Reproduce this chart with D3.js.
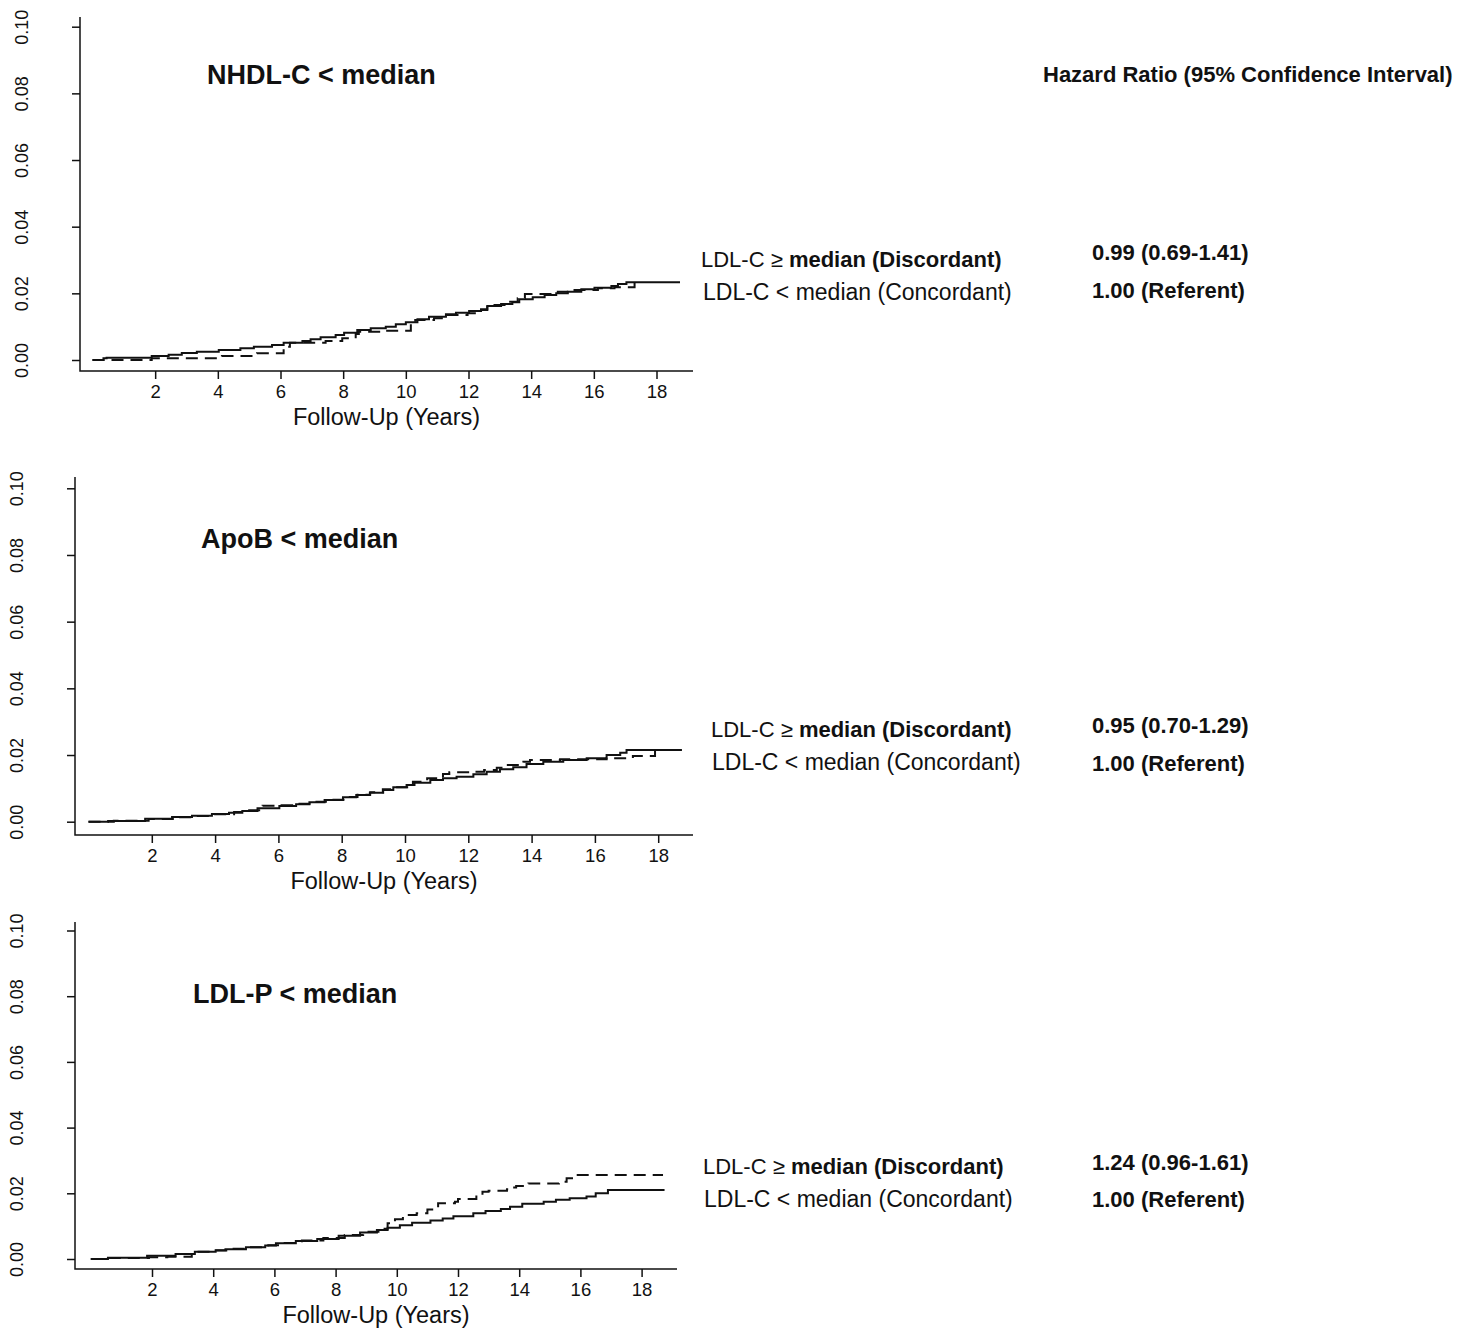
<!DOCTYPE html>
<html>
<head>
<meta charset="utf-8">
<script src="https://cdn.jsdelivr.net/npm/d3@7"></script>
<style>
  body { margin: 0; background: #fff; }
  text { font-family: "Liberation Sans", Arial, sans-serif; fill: #111; }
</style>
</head>
<body>
<svg id="chart" width="1458" height="1328"></svg>
<script>
// tick values
var yearTicks = [2, 4, 6, 8, 10, 12, 14, 16, 18];
var riskTicks = [0, 0.02, 0.04, 0.06, 0.08, 0.10];

// text
var panelTitles = ["NHDL-C < median", "ApoB < median", "LDL-P < median"];
var hazardRatios = ["0.99 (0.69-1.41)", "0.95 (0.70-1.29)", "1.24 (0.96-1.61)"];
var referentLabel = "1.00 (Referent)";
var hrHeader = "Hazard Ratio (95% Confidence Interval)";
var xTitle = "Follow-Up (Years)";

// cumulative incidence steps, [year, risk]
var nhdlConcordant = [[0,0],[0.35,0.0005],[0.45,0.0007],[1.89,0.0012],[2.43,0.0016],[2.85,0.0021],[3.33,0.0025],[4.03,0.003],[4.72,0.0035],[5.15,0.004],[5.73,0.0045],[6.1,0.0052],[6.7,0.0057],[6.96,0.0062],[7.28,0.0068],[7.76,0.0075],[8.03,0.0082],[8.45,0.009],[8.88,0.0095],[9.36,0.01],[9.68,0.0107],[10.0,0.0113],[10.37,0.0122],[10.74,0.013],[11.28,0.0137],[11.6,0.0142],[12.02,0.0147],[12.4,0.0152],[12.6,0.0162],[13.04,0.0168],[13.4,0.0173],[13.62,0.0182],[14.05,0.0188],[14.43,0.0195],[14.8,0.02],[15.17,0.0205],[15.6,0.0212],[16.02,0.0217],[16.56,0.0222],[16.77,0.0228],[17.04,0.0233],[18.75,0.0233]];
var nhdlDiscordant = [[0,0],[1.89,0.0005],[4.13,0.0012],[5.25,0.002],[6.1,0.004],[6.3,0.0052],[7.44,0.0057],[7.97,0.0065],[8.4,0.0078],[8.5,0.0085],[9.2,0.0088],[10.16,0.011],[10.3,0.012],[10.9,0.0125],[11.33,0.0135],[11.97,0.014],[12.4,0.015],[12.6,0.0165],[13.15,0.0175],[13.57,0.0185],[13.8,0.0198],[14.85,0.0205],[15.3,0.021],[16.13,0.0215],[16.66,0.0218],[17.3,0.0222],[17.3,0.0233]];

var apobConcordant = [[0,0],[0.62,0.0002],[1.79,0.0009],[2.64,0.0014],[3.27,0.0018],[3.9,0.0023],[4.44,0.0027],[4.86,0.0032],[5.34,0.004],[6.03,0.0047],[6.56,0.0052],[6.98,0.0058],[7.46,0.0065],[8.04,0.0073],[8.46,0.008],[8.89,0.0087],[9.31,0.0095],[9.63,0.0103],[10.05,0.011],[10.3,0.0117],[10.8,0.0125],[11.2,0.013],[11.63,0.0135],[12.16,0.0142],[12.58,0.015],[13.0,0.0157],[13.42,0.0163],[13.84,0.0173],[14.37,0.018],[15.0,0.0185],[15.74,0.019],[16.37,0.02],[16.8,0.0207],[17.0,0.0215],[18.75,0.0215]];
var apobDiscordant = [[0,0],[0.8,0.0003],[1.9,0.0008],[2.7,0.0013],[3.4,0.0017],[4.0,0.0022],[4.6,0.0029],[5.0,0.0034],[5.5,0.0048],[6.1,0.0049],[6.6,0.0054],[7.1,0.006],[7.5,0.0066],[8.1,0.0074],[8.5,0.0081],[8.9,0.0088],[9.3,0.0097],[9.63,0.0103],[10.25,0.012],[10.7,0.013],[11.2,0.0143],[11.4,0.0148],[12.16,0.015],[12.5,0.0155],[12.9,0.0162],[13.1,0.017],[13.74,0.018],[13.95,0.0185],[14.9,0.0187],[16.37,0.019],[17.2,0.0197],[17.9,0.0197],[17.9,0.0213]];

var ldlpConcordant = [[0,0],[0.56,0.0004],[1.84,0.001],[2.77,0.0015],[3.4,0.0022],[4.08,0.0027],[4.4,0.003],[5.07,0.0036],[5.7,0.0041],[6.05,0.0048],[6.7,0.0055],[7.4,0.0061],[8.1,0.0071],[8.8,0.0081],[9.35,0.0088],[9.7,0.0095],[10.1,0.0103],[10.5,0.011],[11.1,0.0117],[11.5,0.0123],[11.85,0.013],[12.5,0.0139],[12.9,0.0146],[13.4,0.0152],[13.7,0.0159],[14.1,0.0168],[14.8,0.0174],[15.2,0.018],[15.65,0.0185],[16.2,0.019],[16.5,0.02],[16.9,0.021],[18.75,0.021]];
var ldlpDiscordant = [[0,0],[0.6,0.0003],[1.9,0.0005],[2.5,0.0007],[3.3,0.0022],[4.1,0.0026],[4.6,0.0031],[5.2,0.0036],[5.8,0.0042],[6.2,0.0049],[6.9,0.0056],[7.6,0.0064],[8.3,0.0073],[8.9,0.0083],[9.4,0.0092],[9.7,0.0109],[9.94,0.0121],[10.2,0.0134],[10.65,0.0139],[11.0,0.0151],[11.35,0.017],[11.9,0.0174],[12.0,0.0183],[12.6,0.0195],[12.8,0.0205],[13.0,0.0208],[13.6,0.0212],[13.7,0.0218],[13.9,0.0222],[14.3,0.023],[15.3,0.0235],[15.55,0.0246],[15.8,0.0256],[18.7,0.0256]];

// panel boxes (layout only)
var panels = [
    { title: panelTitles[0], conc: nhdlConcordant, disc: nhdlDiscordant, hr: hazardRatios[0],
      left: 80, right: 693, top: 17, bottom: 371, xr: [92.5, 656.5], yr: [360, 26.7],
      titleX: 207, titleY: 84, legX: [701, 703], legY: [267, 300], hrY: [260, 298] },
    { title: panelTitles[1], conc: apobConcordant, disc: apobDiscordant, hr: hazardRatios[1],
      left: 75, right: 693, top: 477, bottom: 835, xr: [88.5, 658.2], yr: [821.7, 488.3],
      titleX: 201, titleY: 548, legX: [711, 712], legY: [737, 770], hrY: [733, 771] },
    { title: panelTitles[2], conc: ldlpConcordant, disc: ldlpDiscordant, hr: hazardRatios[2],
      left: 75, right: 677, top: 922, bottom: 1269, xr: [90.8, 641.6], yr: [1259, 930.5],
      titleX: 193, titleY: 1003, legX: [703, 704], legY: [1174, 1207], hrY: [1170, 1207] }
];

var svg = d3.select("#chart");

var renderPanel = function(p) {
    var x = d3.scaleLinear().domain([0, 18]).range(p.xr);
    var y = d3.scaleLinear().domain([0, 0.10]).range(p.yr);
    var g = svg.append("g").attr("class", "panel");

    // axes
    var xAxis = g.append("g")
        .attr("transform", "translate(0," + p.bottom + ")")
        .call(d3.axisBottom(x).tickValues(yearTicks).tickSize(8).tickPadding(6).tickSizeOuter(0));
    xAxis.select(".domain").remove();
    xAxis.selectAll("line").attr("stroke", "#111").attr("stroke-width", 1.5);
    xAxis.selectAll("text").attr("font-size", 18.5).attr("font-family", null);

    var yAxis = g.append("g")
        .attr("transform", "translate(" + p.left + ",0)")
        .call(d3.axisLeft(y).tickValues(riskTicks).tickSize(8).tickFormat(d3.format(".2f")));
    yAxis.select(".domain").remove();
    yAxis.selectAll("line").attr("stroke", "#111").attr("stroke-width", 1.5);
    yAxis.selectAll("text")
        .attr("x", null).attr("dy", null)
        .attr("text-anchor", "middle")
        .attr("font-size", 18).attr("font-family", null)
        .attr("fill", "#333")
        .attr("transform", "translate(-52,0) rotate(-90)");

    g.append("path")
        .attr("d", "M" + p.left + "," + p.top + "V" + p.bottom + "H" + p.right)
        .attr("fill", "none").attr("stroke", "#111").attr("stroke-width", 1.5);

    g.append("text")
        .attr("x", (p.left + p.right) / 2).attr("y", p.bottom + 54)
        .attr("text-anchor", "middle").attr("font-size", 23.5)
        .text(xTitle);

    // curves
    var line = d3.line()
        .curve(d3.curveStepAfter)
        .x(function(d) { return x(d[0]); })
        .y(function(d) { return y(d[1]); });

    g.append("path").datum(p.conc)
        .attr("d", line).attr("fill", "none")
        .attr("stroke", "#111").attr("stroke-width", 2);
    g.append("path").datum(p.disc)
        .attr("d", line).attr("fill", "none")
        .attr("stroke", "#111").attr("stroke-width", 2)
        .attr("stroke-dasharray", "12,7");

    // labels
    g.append("text")
        .attr("x", p.titleX).attr("y", p.titleY)
        .attr("font-size", 27).attr("font-weight", "bold")
        .text(p.title);

    var disc = g.append("text")
        .attr("x", p.legX[0]).attr("y", p.legY[0]).attr("font-size", 22);
    disc.append("tspan").text("LDL-C \u2265 ");
    disc.append("tspan").attr("font-weight", "bold").text("median (Discordant)");

    g.append("text")
        .attr("x", p.legX[1]).attr("y", p.legY[1]).attr("font-size", 23)
        .text("LDL-C < median (Concordant)");

    g.append("text")
        .attr("x", 1092).attr("y", p.hrY[0])
        .attr("font-size", 22).attr("font-weight", "bold")
        .text(p.hr);
    g.append("text")
        .attr("x", 1092).attr("y", p.hrY[1])
        .attr("font-size", 22).attr("font-weight", "bold")
        .text(referentLabel);
};

panels.forEach(renderPanel);

svg.append("text")
    .attr("x", 1043).attr("y", 82)
    .attr("font-size", 22).attr("font-weight", "bold")
    .text(hrHeader);
</script>
</body>
</html>
